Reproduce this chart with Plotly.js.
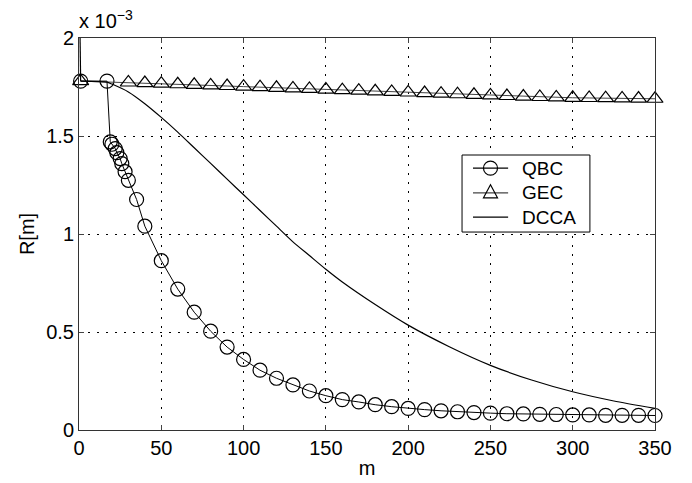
<!DOCTYPE html>
<html>
<head>
<meta charset="utf-8">
<script src="https://cdn.plot.ly/plotly-3.0.1.min.js"></script>
<style>html,body{margin:0;padding:0;background:#fff;}#chart{width:692px;height:483px;}</style>
</head>
<body>
<div id="chart"></div>
<script>
// values in units of 1e-3
const seriesNames = ['QBC', 'GEC', 'DCCA'];

const qbcM = [1, 17, 19, 20, 22, 23, 25, 26, 28, 30, 35, 40, 50, 60, 70, 80, 90, 100, 110, 120, 130, 140, 150, 160, 170, 180, 190, 200, 210, 220, 230, 240, 250, 260, 270, 280, 290, 300, 310, 320, 330, 340, 350];
const qbcR = [1.78, 1.78, 1.47, 1.458, 1.436, 1.415, 1.385, 1.359, 1.318, 1.274, 1.176, 1.04, 0.864, 0.719, 0.601, 0.504, 0.423, 0.36, 0.305, 0.264, 0.23, 0.199, 0.175, 0.155, 0.143, 0.129, 0.119, 0.110, 0.104, 0.098, 0.093, 0.089, 0.086, 0.083, 0.082, 0.080, 0.079, 0.077, 0.077, 0.075, 0.075, 0.075, 0.074];

const gecM = [1, 30, 40, 50, 60, 70, 80, 90, 100, 110, 120, 130, 140, 150, 160, 170, 180, 190, 200, 210, 220, 230, 240, 250, 260, 270, 280, 290, 300, 310, 320, 330, 340, 350];
const gecR = [1.78, 1.773, 1.770, 1.767, 1.764, 1.761, 1.758, 1.755, 1.752, 1.749, 1.746, 1.743, 1.740, 1.737, 1.734, 1.731, 1.728, 1.725, 1.722, 1.719, 1.716, 1.713, 1.710, 1.707, 1.704, 1.701, 1.699, 1.697, 1.695, 1.694, 1.693, 1.692, 1.691, 1.690];

const dccaM = [0, 1, 17, 20, 30, 40, 50, 60, 70, 80, 90, 100, 110, 120, 130, 140, 150, 160, 180, 200, 225, 250, 275, 300, 325, 350];
const dccaR = [2.4, 1.78, 1.775, 1.765, 1.725, 1.665, 1.595, 1.52, 1.44, 1.36, 1.28, 1.20, 1.12, 1.04, 0.96, 0.89, 0.82, 0.755, 0.64, 0.535, 0.425, 0.33, 0.255, 0.195, 0.148, 0.11];

const xTicks = [0, 50, 100, 150, 200, 250, 300, 350];
const yTicks = [0, 0.5, 1, 1.5, 2];
const yTickText = ['0', '0.5', '1', '1.5', '2'];

const fam = 'Liberation Sans, Arial, sans-serif';
const font = {family: fam, size: 20, color: '#000'};

const traces = [
  {x: qbcM, y: qbcR, name: seriesNames[0], mode: 'lines+markers', cliponaxis: false,
   line: {color: '#000', width: 1},
   marker: {symbol: 'circle-open', size: 14, color: '#000', line: {width: 1.2}}},
  {x: gecM, y: gecR, name: seriesNames[1], mode: 'lines+markers', cliponaxis: false,
   line: {color: '#444', width: 1},
   marker: {symbol: 'triangle-up-open', size: 14, color: '#000', line: {width: 1.2}}},
  {x: dccaM.slice(0, 2), y: dccaR.slice(0, 2), name: seriesNames[2], mode: 'lines',
   line: {color: '#000', width: 1.2}},
  {x: dccaM.slice(1), y: dccaR.slice(1), name: seriesNames[2], mode: 'lines',
   line: {color: '#000', width: 1.2, shape: 'spline', smoothing: 0.6}}
];

// legend box (paper coordinates)
const lgX0 = 0.665, lgX1 = 0.887, lgY0 = 0.505, lgY1 = 0.7015;
const lgRows = [0.668, 0.605, 0.543];
const lgLineX0 = 0.684, lgLineX1 = 0.745, lgMarkX = 0.7144, lgTextX = 0.766;

const shapes = [
  {type: 'rect', xref: 'paper', yref: 'paper', x0: lgX0, x1: lgX1, y0: lgY0, y1: lgY1,
   fillcolor: '#fff', line: {color: '#000', width: 1}, layer: 'above'}
];
lgRows.forEach(function (y, i) {
  shapes.push({type: 'line', xref: 'paper', yref: 'paper', x0: lgLineX0, x1: lgLineX1, y0: y, y1: y,
    line: {color: i === 1 ? '#444' : '#000', width: 1.2}, layer: 'above'});
});
shapes.push({type: 'circle', xref: 'paper', yref: 'paper', xsizemode: 'pixel', ysizemode: 'pixel',
  xanchor: lgMarkX, yanchor: lgRows[0], x0: -7, x1: 7, y0: -7, y1: 7,
  line: {color: '#000', width: 1.2}, layer: 'above'});
shapes.push({type: 'path', xref: 'paper', yref: 'paper', xsizemode: 'pixel', ysizemode: 'pixel',
  xanchor: lgMarkX, yanchor: lgRows[1], path: 'M -7,-5 L 7,-5 L 0,8 Z',
  line: {color: '#000', width: 1.2}, layer: 'above'});

const annotations = [{xref: 'paper', yref: 'paper', x: 0, y: 1, xanchor: 'left', yanchor: 'bottom',
  yshift: 4, xshift: -2, showarrow: false, text: 'x 10<sup>−3</sup>',
  font: {family: fam, size: 20, color: '#000'}}];
lgRows.forEach(function (y, i) {
  annotations.push({xref: 'paper', yref: 'paper', x: lgTextX, y: y, xanchor: 'left', yanchor: 'middle',
    showarrow: false, text: seriesNames[i], font: {family: fam, size: 19, color: '#000'}});
});

const layout = {
  width: 692, height: 483,
  margin: {l: 79, r: 37, t: 38, b: 53},
  paper_bgcolor: '#fff', plot_bgcolor: '#fff',
  font: font,
  showlegend: false,
  xaxis: {range: [0, 350], tickvals: xTicks, ticks: 'inside', ticklen: 5,
    showline: true, mirror: 'ticks', linecolor: '#333', linewidth: 1,
    showgrid: true, gridcolor: '#000', griddash: '1.5px,7.5px', gridwidth: 1,
    zeroline: false, tickfont: font,
    title: {text: 'm', font: font, standoff: 2}},
  yaxis: {range: [0, 2], tickvals: yTicks, ticktext: yTickText, ticks: 'inside', ticklen: 5,
    showline: true, mirror: 'ticks', linecolor: '#333', linewidth: 1,
    showgrid: true, gridcolor: '#000', griddash: '1.5px,7.5px', gridwidth: 1,
    zeroline: false, tickfont: font,
    title: {text: 'R[m]', font: font, standoff: 6}},
  shapes: shapes,
  annotations: annotations
};

Plotly.newPlot('chart', traces, layout, {staticPlot: true, displayModeBar: false});
</script>
</body>
</html>
